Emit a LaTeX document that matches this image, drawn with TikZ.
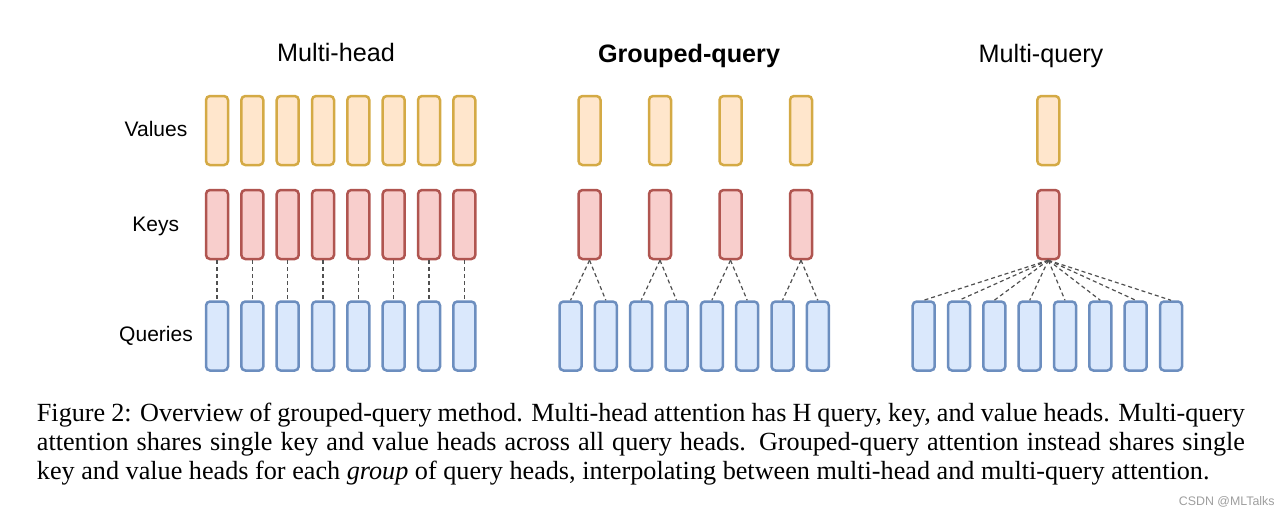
\documentclass[tikz,border=0pt]{standalone}
\usepackage{fontspec}
\setmainfont{Liberation Serif}
\setsansfont{Liberation Sans}
\definecolor{valfill}{HTML}{FFE6CC}
\definecolor{valline}{HTML}{D4AA45}
\definecolor{keyfill}{HTML}{F8CECC}
\definecolor{keyline}{HTML}{B05550}
\definecolor{qryfill}{HTML}{DAE8FC}
\definecolor{qryline}{HTML}{6C8EBF}
\definecolor{linkgray}{HTML}{505050}
\begin{document}
\begin{tikzpicture}[x=0.5pt,y=-0.5pt,
    head/.style={draw,rounded corners=2pt,line width=1.25pt,minimum width=11pt,minimum height=34.5pt,inner sep=0pt},
    val/.style={head,draw=valline,fill=valfill},
    key/.style={head,draw=keyline,fill=keyfill},
    qry/.style={head,draw=qryline,fill=qryfill},
    title/.style={font=\sffamily\fontsize{12.6}{14}\selectfont,anchor=base,inner sep=0pt},
    row/.style={font=\sffamily\fontsize{10.5}{12}\selectfont,anchor=base,inner sep=0pt},
    link/.style={draw=linkgray,line width=0.6pt,dash pattern=on 2pt off 1.5pt}]
      \useasboundingbox (0,0) rectangle (1288,516);
      % titles and row labels
      \node[title] (mhtitle) at (336,61.7) {Multi-head};
      \node[title] (gqtitle) at (689,62) {\bfseries Grouped-query};
      \node[title] (mqtitle) at (1041,62) {Multi-query};
      \node[row] (values) at (156,136.7) {Values};
      \node[row] (keys) at (155.7,231.7) {Keys};
      \node[row] (queries) at (156,341.7) {Queries};
      % multi-head
      \draw
        (217,130.5) node[val] (mv1){}
        (252.3,130.5) node[val] (mv2){}
        (287.7,130.5) node[val] (mv3){}
        (323,130.5) node[val] (mv4){}
        (358.3,130.5) node[val] (mv5){}
        (393.7,130.5) node[val] (mv6){}
        (429,130.5) node[val] (mv7){}
        (464.3,130.5) node[val] (mv8){};
      \draw
        (217,224.5) node[key] (mk1){}
        (252.3,224.5) node[key] (mk2){}
        (287.7,224.5) node[key] (mk3){}
        (323,224.5) node[key] (mk4){}
        (358.3,224.5) node[key] (mk5){}
        (393.7,224.5) node[key] (mk6){}
        (429,224.5) node[key] (mk7){}
        (464.3,224.5) node[key] (mk8){};
      \draw
        (217,336) node[qry] (mq1){}
        (252.3,336) node[qry] (mq2){}
        (287.7,336) node[qry] (mq3){}
        (323,336) node[qry] (mq4){}
        (358.3,336) node[qry] (mq5){}
        (393.7,336) node[qry] (mq6){}
        (429,336) node[qry] (mq7){}
        (464.3,336) node[qry] (mq8){};
      % grouped-query
      \draw
        (589.5,130.5) node[val] (gv1){}
        (660,130.5) node[val] (gv2){}
        (730.5,130.5) node[val] (gv3){}
        (801,130.5) node[val] (gv4){};
      \draw
        (589.5,224.5) node[key] (gk1){}
        (660,224.5) node[key] (gk2){}
        (730.5,224.5) node[key] (gk3){}
        (801,224.5) node[key] (gk4){};
      \draw
        (570.5,336) node[qry] (gq1){}
        (605.8,336) node[qry] (gq2){}
        (641.2,336) node[qry] (gq3){}
        (676.5,336) node[qry] (gq4){}
        (711.8,336) node[qry] (gq5){}
        (747.2,336) node[qry] (gq6){}
        (782.5,336) node[qry] (gq7){}
        (817.8,336) node[qry] (gq8){};
      % multi-query
      \draw
        (1048.3,130.5) node[val] (qv){}
        (1048.3,224.5) node[key] (qk){};
      \draw
        (923.7,336) node[qry] (qq1){}
        (959,336) node[qry] (qq2){}
        (994.3,336) node[qry] (qq3){}
        (1029.7,336) node[qry] (qq4){}
        (1065,336) node[qry] (qq5){}
        (1100.3,336) node[qry] (qq6){}
        (1135.7,336) node[qry] (qq7){}
        (1171,336) node[qry] (qq8){};
      \begin{scope}[link]
        \draw (mk1.south) to (mq1.north);
        \draw (mk2.south) to (mq2.north);
        \draw (mk3.south) to (mq3.north);
        \draw (mk4.south) to (mq4.north);
        \draw (mk5.south) to (mq5.north);
        \draw (mk6.south) to (mq6.north);
        \draw (mk7.south) to (mq7.north);
        \draw (mk8.south) to (mq8.north);
        \draw (gk1.south) to (gq1.north);
        \draw (gk1.south) to (gq2.north);
        \draw (gk2.south) to (gq3.north);
        \draw (gk2.south) to (gq4.north);
        \draw (gk3.south) to (gq5.north);
        \draw (gk3.south) to (gq6.north);
        \draw (gk4.south) to (gq7.north);
        \draw (gk4.south) to (gq8.north);
        \draw (qk.south) to (qq1.north);
        \draw (qk.south) to (qq2.north);
        \draw (qk.south) to (qq3.north);
        \draw (qk.south) to (qq4.north);
        \draw (qk.south) to (qq5.north);
        \draw (qk.south) to (qq6.north);
        \draw (qk.south) to (qq7.north);
        \draw (qk.south) to (qq8.north);
      \end{scope}
      % caption
      \node[anchor=north west,inner sep=0pt,align=left,
        font=\fontsize{13.1}{14.5}\selectfont] (caption) at (36.5,402.5)
        {\hbox to 604pt{Figure 2: Overview of grouped-query method. Multi-head attention has H query, key, and value heads. Multi-query}\\
        \hbox to 604pt{attention shares single key and value heads across all query heads. Grouped-query attention instead shares single}\\
        key and value heads for each \emph{group} of query heads, interpolating between multi-head and multi-query attention.};
      \node[anchor=base east,inner sep=0pt,text=black!38,font=\sffamily\fontsize{6.2}{7}\selectfont] (mark) at (1275,505) {CSDN @MLTalks};
    \end{tikzpicture}
\end{document}
